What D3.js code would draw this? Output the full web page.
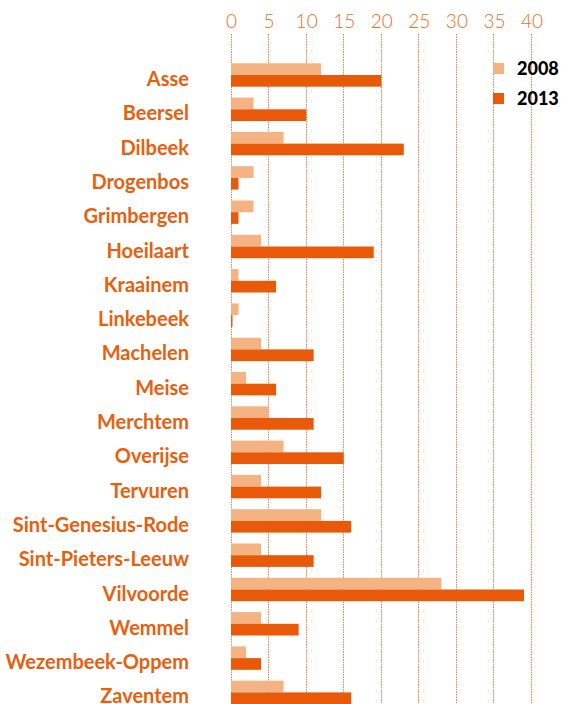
<!DOCTYPE html>
<html><head><meta charset="utf-8">
<script src="https://cdn.jsdelivr.net/npm/d3@7"></script>
<style>body{margin:0;background:#fff;} svg{display:block;}</style>
</head><body>
<script>
const municipalities = ["Asse","Beersel","Dilbeek","Drogenbos","Grimbergen","Hoeilaart","Kraainem","Linkebeek","Machelen","Meise","Merchtem","Overijse","Tervuren","Sint-Genesius-Rode","Sint-Pieters-Leeuw","Vilvoorde","Wemmel","Wezembeek-Oppem","Zaventem"];
const values2008 = [12,3,7,3,3,4,1,1,4,2,5,7,4,12,4,28,4,2,7];
const values2013 = [20,10,23,1,1,19,6,0.2,11,6,11,15,12,16,11,39,9,4,16];
const seriesNames = ["2008","2013"];
const tickValues = [0,5,10,15,20,25,30,35,40];

const W = 561, H = 704;
const colors = {"2008":"#F5B283","2013":"#E85A0A"};
const svg = d3.select("body").append("svg").attr("width",W).attr("height",H);

const x = d3.scaleLinear().domain([0,40]).range([231,531.5]);
const y = d3.scaleBand().domain(municipalities).range([57.85,709.55]).paddingInner(0.318).paddingOuter(0.159);
const y1 = d3.scaleBand().domain(seriesNames).range([0,y.bandwidth()]);

// gridlines
svg.append("g").selectAll("line").data(tickValues).join("line")
  .attr("x1",d=>Math.floor(x(d))+0.5).attr("x2",d=>Math.floor(x(d))+0.5).attr("y1",34).attr("y2",H)
  .attr("stroke","#EC8447").attr("stroke-width",1).attr("stroke-dasharray","1.5,1");

// axis labels
const ax = d3.axisTop(x).tickValues(tickValues).tickSize(0).tickPadding(0);
const axg = svg.append("g").attr("transform","translate(0,28)").call(ax);
axg.select(".domain").remove();
axg.selectAll("text").attr("fill","#EC6E24").style("font-family","Lato").style("font-weight","300").style("font-size","19px");

const data = municipalities.map((m,i)=>({m, v:{"2008":values2008[i],"2013":values2013[i]}}));
const rows = svg.append("g").selectAll("g").data(data).join("g")
  .attr("transform",d=>`translate(0,${y(d.m)})`);
rows.selectAll("rect").data(d=>seriesNames.map(s=>({s,v:d.v[s]}))).join("rect")
  .attr("x",x(0)).attr("y",d=>y1(d.s)).attr("height",y1.bandwidth())
  .attr("width",d=>x(d.v)-x(0)).attr("fill",d=>colors[d.s]);

// category labels
svg.append("g").selectAll("text").data(municipalities).join("text")
  .attr("x",189).attr("y",d=>y(d)+y.bandwidth()/2 + 11)
  .attr("text-anchor","end").attr("fill","#E8600E")
  .style("font-family","Lato").style("font-weight","bold").style("font-size","20px")
  .text(d=>d);

// legend
const lg = svg.append("g").selectAll("g").data(seriesNames).join("g")
  .attr("transform",(d,i)=>`translate(493,${63+i*30})`);
lg.append("rect").attr("width",11).attr("height",11).attr("fill",d=>colors[d]);
lg.append("text").attr("x",24).attr("y",6).attr("dy","0.36em").attr("fill","#000")
  .style("font-family","Lato").style("font-weight","900").style("font-size","18px").text(d=>d);
</script>
</body></html>
